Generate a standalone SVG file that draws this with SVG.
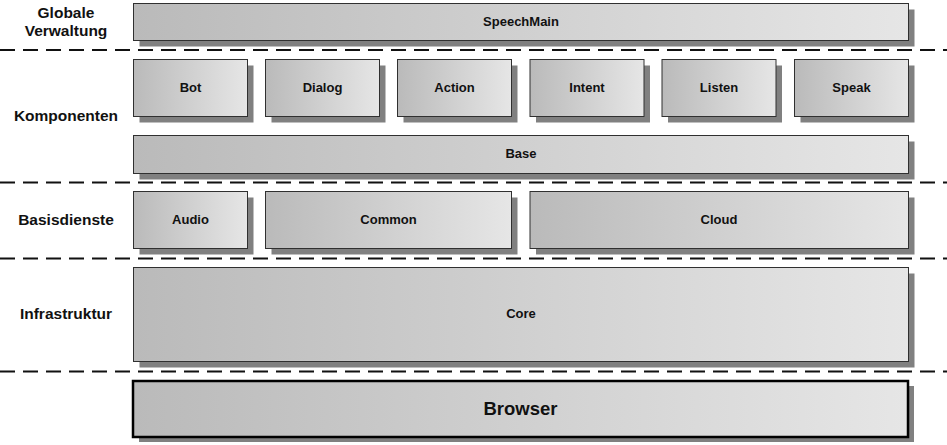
<svg xmlns="http://www.w3.org/2000/svg" width="947" height="445" viewBox="0 0 947 445">
<defs>
<linearGradient id="g" x1="0" y1="0" x2="1" y2="0">
<stop offset="0" stop-color="#bababa"/>
<stop offset="1" stop-color="#e6e6e6"/>
</linearGradient>
</defs>
<style>
.sh{fill:#808080}
.bx{fill:url(#g);stroke:#303030;stroke-width:1}
.bb{fill:url(#g);stroke:#000;stroke-width:2.5}
.t{font-family:"Liberation Sans",Arial,sans-serif;font-weight:bold;font-size:13px;fill:#111;text-anchor:middle}
.tb{font-family:"Liberation Sans",Arial,sans-serif;font-weight:bold;font-size:18.5px;fill:#111;text-anchor:middle}
.lab{font-family:"Liberation Sans",Arial,sans-serif;font-weight:bold;font-size:15.5px;fill:#111;text-anchor:middle}
.d{stroke:#111;stroke-width:2;stroke-dasharray:15 8;fill:none}
</style>
<rect width="947" height="445" fill="#fff"/>
<g id="separators">
<line class="d" x1="0" y1="50" x2="947" y2="50"/>
<line class="d" x1="0" y1="182.5" x2="947" y2="182.5"/>
<line class="d" x1="0" y1="258.5" x2="947" y2="258.5"/>
<line class="d" x1="0" y1="371.5" x2="947" y2="371.5"/>
</g>
<g id="layer-labels">
<text class="lab" x="66" y="18">Globale</text>
<text class="lab" x="66" y="36">Verwaltung</text>
<text class="lab" x="66" y="121">Komponenten</text>
<text class="lab" x="66" y="225">Basisdienste</text>
<text class="lab" x="66" y="319">Infrastruktur</text>
</g>
<g id="SpeechMain"><rect class="sh" x="139.5" y="9.5" width="775" height="37"/><rect class="bx" x="133.5" y="3.5" width="775" height="37"/><text class="t" x="521" y="25.5">SpeechMain</text></g>
<g id="Bot"><rect class="sh" x="139.5" y="65.5" width="114" height="57"/><rect class="bx" x="133.5" y="59.5" width="114" height="57"/><text class="t" x="190.5" y="91.5">Bot</text></g>
<g id="Dialog"><rect class="sh" x="271.5" y="65.5" width="114" height="57"/><rect class="bx" x="265.5" y="59.5" width="114" height="57"/><text class="t" x="322.5" y="91.5">Dialog</text></g>
<g id="Action"><rect class="sh" x="403.5" y="65.5" width="114" height="57"/><rect class="bx" x="397.5" y="59.5" width="114" height="57"/><text class="t" x="454.5" y="91.5">Action</text></g>
<g id="Intent"><rect class="sh" x="536" y="65.5" width="114" height="57"/><rect class="bx" x="530" y="59.5" width="114" height="57"/><text class="t" x="587" y="91.5">Intent</text></g>
<g id="Listen"><rect class="sh" x="668" y="65.5" width="114" height="57"/><rect class="bx" x="662" y="59.5" width="114" height="57"/><text class="t" x="719" y="91.5">Listen</text></g>
<g id="Speak"><rect class="sh" x="800.5" y="65.5" width="114" height="57"/><rect class="bx" x="794.5" y="59.5" width="114" height="57"/><text class="t" x="851.5" y="91.5">Speak</text></g>
<g id="Base"><rect class="sh" x="139.5" y="141.5" width="775" height="38"/><rect class="bx" x="133.5" y="135.5" width="775" height="38"/><text class="t" x="521" y="158">Base</text></g>
<g id="Audio"><rect class="sh" x="139.5" y="197.5" width="114" height="57"/><rect class="bx" x="133.5" y="191.5" width="114" height="57"/><text class="t" x="190.5" y="223.5">Audio</text></g>
<g id="Common"><rect class="sh" x="271.5" y="197.5" width="246" height="57"/><rect class="bx" x="265.5" y="191.5" width="246" height="57"/><text class="t" x="388.5" y="223.5">Common</text></g>
<g id="Cloud"><rect class="sh" x="536" y="197.5" width="378.5" height="57"/><rect class="bx" x="530" y="191.5" width="378.5" height="57"/><text class="t" x="719" y="223.5">Cloud</text></g>
<g id="Core"><rect class="sh" x="139.5" y="273.5" width="775" height="94"/><rect class="bx" x="133.5" y="267.5" width="775" height="94"/><text class="t" x="521" y="318">Core</text></g>
<g id="Browser"><rect class="sh" x="139" y="386" width="775" height="56"/><rect class="bb" x="133" y="381" width="775" height="56"/><text class="tb" x="520.5" y="415">Browser</text></g>
</svg>
